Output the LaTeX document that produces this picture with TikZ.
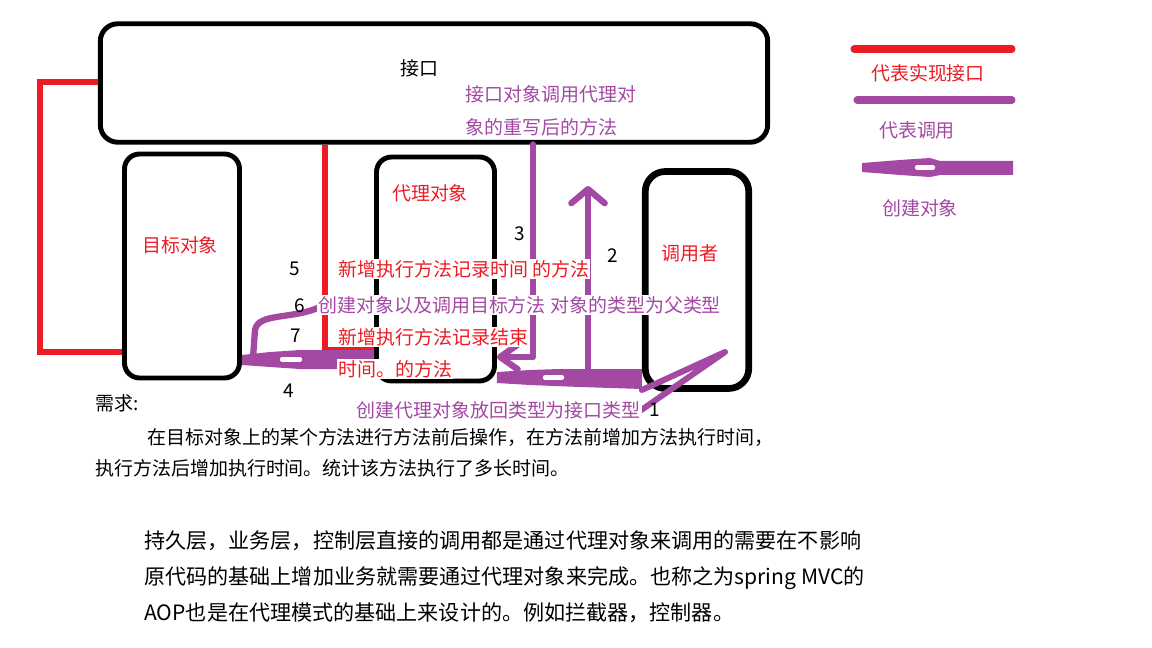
\documentclass[tikz,border=0pt]{standalone}
\usepackage{fontspec}
\setmainfont{Noto Sans CJK SC}
\usepackage{tikz}
\usetikzlibrary{arrows.meta}

\definecolor{paintred}{HTML}{ED1C24}
\definecolor{paintpurple}{HTML}{A349A4}

\begin{document}
\begin{tikzpicture}[
            x = 0.02cm,
            y = -0.02cm,
            box/.style = {
                draw,
                line width = 2.8pt,
                rounded corners = 0.3cm,
                inner sep = 0pt,
            },
            txt/.style = {
                font = \fontsize{10.8pt}{18.7pt}\selectfont,
                inner sep = 0.5pt,
            },
            redtxt/.style = {txt, text = paintred, fill = white},
            calltxt/.style = {txt, text = paintpurple, fill = white},
            bigtxt/.style = {
                font = \fontsize{12pt}{20.4pt}\selectfont,
                inner sep = 0pt,
                align = left,
            },
            impl/.style = {draw = paintred, line width = 3.4pt},
            call/.style = {
                draw = paintpurple,
                line width = 3.9pt,
                line cap = round,
                line join = round,
            },
            create/.style = {fill = paintpurple},
            slot/.style = {draw = white, line width = 2.5pt, line cap = round},
        ]

        \useasboundingbox (0,0) rectangle (1152,648);

        % Vakken
        \node[box, rounded corners = 0.35cm, minimum width = 13.35cm, minimum height = 2.37cm] (iface) at (434,83) {};
        \node[box, minimum width = 2.3cm, minimum height = 4.48cm] (target) at (182,266) {};
        \node[box, minimum width = 2.36cm, minimum height = 4.48cm] (proxy) at (435.5,269) {};
        \node[box, line width = 3.8pt, rounded corners = 0.4cm, minimum width = 2.07cm, minimum height = 4.34cm] (caller) at (697,280) {};

        % Implementatie
        \draw[impl] (iface.west |- 0,82) -- (40,82) -- (40,352) -- (target.west |- 0,352);
        \draw[impl] (iface.south -| 325,0) -- (325,350) -- (proxy.west |- 0,350);

        % Aanroepen
        \coordinate (stem) at (588,372);
        \coordinate (stemtop) at (588,186);
        \draw[call, -{Straight Barb[length = 10pt, width = 14pt, line width = 3.6pt, round]}]
            (iface.south -| 533,0) -- (533,357) -- (proxy.east |- 0,357);
        \draw[call, -{Straight Barb[length = 8pt, width = 19pt, line width = 3.6pt, round]}]
            (stem) -- (stemtop);
        \draw[call, line width = 3.4pt] (caller.west |- 0,390) -- (725,352) -- (637,413);
        \draw[call, line width = 3.6pt]
            (322,306) .. controls (295,320) and (258,312) .. (255,330) -- (253,358);

        % Objecten aanmaken
        \fill[create] (caller.west |- 0,369) -- (560,369) -- (530,370) -- (proxy.east |- 0,372)
            -- (proxy.east |- 0,383) -- (530,385) -- (580,387) -- (caller.west |- 0,389) -- cycle;
        \draw[slot] (545,377.5) -- (562,377.5);
        \fill[create] (proxy.west |- 0,350) -- (300,350) -- (270,352) -- (target.east |- 0,355)
            -- (target.east |- 0,365) -- (270,367) -- (300,369) -- (proxy.west |- 0,369) -- cycle;
        \draw[slot] (282,359.5) -- (300,359.5);

        % Teksten
        \node[txt] (ifacelbl) at (419,68) {接口};
        \node[calltxt, fill = none, align = left, anchor = west] (overridelbl) at (464,111)
            {接口对象调用代理对\\象的重写后的方法};
        \node[redtxt, fill = none] (proxylbl) at (430,193) {代理对象};
        \node[redtxt, fill = none] (targetlbl) at (180,245) {目标对象};
        \node[redtxt, fill = none] (callerlbl) at (690,253) {调用者};

        \node[redtxt, anchor = west] (beforelbl) at (337,269) {新增执行方法记录时间 的方法};
        \node[calltxt, anchor = west] (invokelbl) at (317,305) {创建对象以及调用目标方法 对象的类型为父类型};
        \node[redtxt, anchor = west] (afterlbl) at (337,337) {新增执行方法记录结束};
        \node[redtxt, anchor = west] (afterlbltwo) at (337,369) {时间。的方法};
        \node[calltxt, anchor = west] (returnlbl) at (355,410) {创建代理对象放回类型为接口类型};

        \node[txt] (num1) at (655,410) {1};
        \node[txt] (num2) at (613,256) {2};
        \node[txt] (num3) at (520,234) {3};
        \node[txt] (num4) at (289,391) {4};
        \node[txt] (num5) at (295,269) {5};
        \node[txt] (num6) at (300,306) {6};
        \node[txt] (num7) at (296,336) {7};

        % Legenda
        \draw[impl, line width = 4pt, line cap = round] (854,49) -- (1012,49);
        \node[redtxt] (legimpl) at (928,73) {代表实现接口};
        \draw[call, line width = 4pt] (857,100) -- (1012,100);
        \node[calltxt] (legcall) at (917,130) {代表调用};
        \fill[create] (1013,161) -- (940,161) -- (930,158) -- (900,160) -- (862,163) -- (862,172)
            -- (900,175) -- (930,177) -- (940,175) -- (1013,175) -- cycle;
        \draw[slot] (917,167.5) -- (933,167.5);
        \node[calltxt] (legcreate) at (920,208) {创建对象};

        % Beschrijving
        \node[txt, anchor = west] (req) at (94,403) {需求:};
        \node[txt, anchor = west] (reqa) at (146,437) {在目标对象上的某个方法进行方法前后操作，在方法前增加方法执行时间，};
        \node[txt, anchor = west] (reqb) at (94,468) {执行方法后增加执行时间。统计该方法执行了多长时间。};
        \node[bigtxt, anchor = west] (aop) at (144,577)
            {持久层，业务层，控制层直接的调用都是通过代理对象来调用的需要在不影响\\
             原代码的基础上增加业务就需要通过代理对象来完成。也称之为spring MVC的\\
             AOP也是在代理模式的基础上来设计的。例如拦截器，控制器。};
    \end{tikzpicture}
\end{document}
